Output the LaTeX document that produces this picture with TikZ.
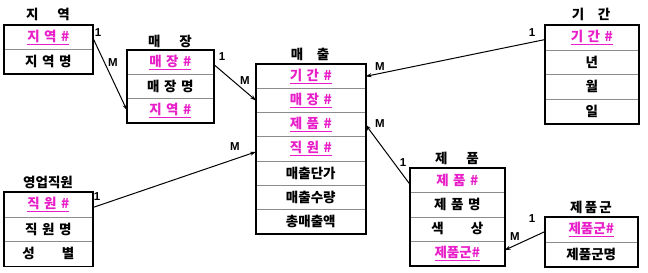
\documentclass[tikz,border=0pt]{standalone}
\usepackage{fontspec}
\setmainfont{Noto Sans CJK KR}[BoldFont={* Black}]
\newfontfamily\latinfont{Liberation Sans}
\usetikzlibrary{arrows.meta,calc}
\definecolor{keypink}{RGB}{232,30,200}
\begin{document}
\begin{tikzpicture}[x=1pt,y=-1pt,
  row/.style={draw=black!45, line width=0.6pt, anchor=north west, inner sep=0pt,
     minimum height=24pt, font=\fontsize{13.5}{14}\selectfont\bfseries},
  keyrow/.style={row, text=keypink},
  box/.style={draw=black, line width=1.8pt},
  etitle/.style={font=\fontsize{13.5}{14}\selectfont\bfseries, inner sep=0pt},
  conn/.style={line width=1pt, -{Stealth[length=6pt,width=4pt]}},
  card/.style={font=\latinfont\fontsize{11.5}{12}\selectfont\bfseries, inner sep=0pt}
]
\useasboundingbox (0,0) rectangle (648,273);

% 지역
\node[etitle] (t1) at (48,14) {지\hspace{1.4em}역};
\node[keyrow, minimum width=88pt] (a1) at (4,25) {\underline{지\,\,역\,\,\#}};
\node[row, minimum width=88pt] (a2) at (4,49) {지\,\,역\,\,명};
\draw[box] (a1.north west) rectangle (a2.south east);

% 매장
\node[etitle] (t2) at (170,41) {매\hspace{1.4em}장};
\node[keyrow, minimum width=86pt] (b1) at (127,50) {\underline{매\,\,장\,\,\#}};
\node[row, minimum width=86pt] (b2) at (127,74) {매\,\,장\,\,명};
\node[keyrow, minimum width=86pt] (b3) at (127,98) {\underline{지\,\,역\,\,\#}};
\draw[box] (b1.north west) rectangle (b3.south east);

% 매출
\node[etitle] (t3) at (310,54) {매\hspace{1.0em}출};
\node[keyrow, minimum width=109pt, minimum height=24.15pt] (c1) at (256,64) {\underline{기\,\,간\,\,\#}};
\node[keyrow, minimum width=109pt, minimum height=24.15pt] (c2) at (256,88.15) {\underline{매\,\,장\,\,\#}};
\node[keyrow, minimum width=109pt, minimum height=24.15pt] (c3) at (256,112.3) {\underline{제\,\,품\,\,\#}};
\node[keyrow, minimum width=109pt, minimum height=24.15pt] (c4) at (256,136.45) {\underline{직\,\,원\,\,\#}};
\node[row, minimum width=109pt, minimum height=24.15pt] (c5) at (256,160.6) {매출단가};
\node[row, minimum width=109pt, minimum height=24.15pt] (c6) at (256,184.75) {매출수량};
\node[row, minimum width=109pt, minimum height=24.15pt] (c7) at (256,208.9) {총매출액};
\draw[box] (c1.north west) rectangle (c7.south east);

% 기간
\node[etitle] (t4) at (591,14) {기\hspace{1.0em}간};
\node[keyrow, minimum width=93pt, minimum height=24.5pt] (d1) at (545,25) {\underline{기\,\,간\,\,\#}};
\node[row, minimum width=93pt, minimum height=24.5pt] (d2) at (545,49.5) {년};
\node[row, minimum width=93pt, minimum height=24.5pt] (d3) at (545,74) {월};
\node[row, minimum width=93pt, minimum height=24.5pt] (d4) at (545,98.5) {일};
\draw[box] (d1.north west) rectangle (d4.south east);

% 영업직원
\node[etitle] (t5) at (48,182) {영업직원};
\node[keyrow, minimum width=88pt, minimum height=24.6pt] (e1) at (4,192) {\underline{직\,\,원\,\,\#}};
\node[row, minimum width=88pt, minimum height=24.6pt] (e2) at (4,216.6) {직\,\,원\,\,명};
\node[row, minimum width=88pt, minimum height=24.6pt] (e3) at (4,241.2) {성\hspace{2em}별};
\draw[box] (e1.north west) rectangle (e3.south east);

% 제품
\node[etitle] (t6) at (457,158) {제\hspace{1.4em}품};
\node[keyrow, minimum width=94pt, minimum height=24.25pt] (f1) at (410,168) {제\,\,품\,\,\#};
\node[row, minimum width=94pt, minimum height=24.25pt] (f2) at (410,192.25) {제\,\,품\,\,명};
\node[row, minimum width=94pt, minimum height=24.25pt] (f3) at (410,216.5) {색\hspace{2em}상};
\node[keyrow, minimum width=94pt, minimum height=24.25pt] (f4) at (410,240.75) {\underline{제품군\#}};
\draw[box] (f1.north west) rectangle (f4.south east);

% 제품군
\node[etitle] (t7) at (591,207) {제\,품\,군};
\node[keyrow, minimum width=92pt, minimum height=24.5pt] (g1) at (545,217) {\underline{제품군\#}};
\node[row, minimum width=92pt, minimum height=24.5pt] (g2) at (545,241.5) {제품군명};
\draw[box] (g1.north west) rectangle (g2.south east);

% connectors
\draw[conn] (a1.east) -- (b3.west);
\draw[conn] ($(b1.east)+(0,2)$) -- (c2.west);
\draw[conn] ($(d1.west)+(0,2)$) -- (c1.east);
\draw[conn] ($(e1.east)+(0,3)$) -- ($(c4.west)+(0,3)$);
\draw[conn] ($(f1.west)+(0,4)$) -- (c3.east);
\draw[conn] ($(g1.west)+(0,2)$) -- ($(f4.east)+(0,-3)$);

% cardinalities
\node[card] (k1) at (98,33) {1};
\node[card] (m1) at (113,63) {M};
\node[card] (k2) at (222,57) {1};
\node[card] (m2) at (245,81) {M};
\node[card] (k3) at (532,33) {1};
\node[card] (m3) at (380,67) {M};
\node[card] (k4) at (97,197) {1};
\node[card] (m4) at (235,147) {M};
\node[card] (k5) at (403,163) {1};
\node[card] (m5) at (380,124) {M};
\node[card] (k6) at (532,219) {1};
\node[card] (m6) at (515,237) {M};
\end{tikzpicture}
\end{document}
